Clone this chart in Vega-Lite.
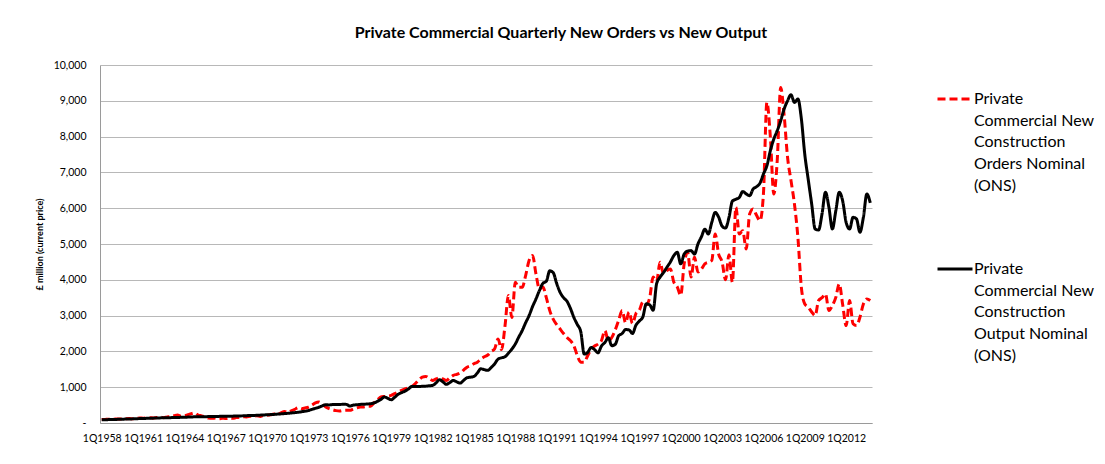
{
"$schema": "https://vega.github.io/schema/vega-lite/v6.json",
"width": 772, "height": 358,
"autosize": {"type": "none"},
"padding": {"left": 100, "top": 65, "right": 233, "bottom": 41},
"background": "white",
"title": {"text": "Private Commercial Quarterly New Orders vs New Output", "font": "Lato", "fontSize": 16, "fontWeight": "bold", "color": "#000000", "anchor": "middle", "offset": 19, "dx": 75},
"data": {"values": [
{"q":"1Q1958","orders":95,"output":90},{"q":"2Q1958","orders":100,"output":92},{"q":"3Q1958","orders":105,"output":95},{"q":"4Q1958","orders":100,"output":98},
{"q":"1Q1959","orders":110,"output":100},{"q":"2Q1959","orders":115,"output":103},{"q":"3Q1959","orders":108,"output":106},{"q":"4Q1959","orders":120,"output":110},
{"q":"1Q1960","orders":125,"output":113},{"q":"2Q1960","orders":118,"output":116},{"q":"3Q1960","orders":130,"output":120},{"q":"4Q1960","orders":140,"output":123},
{"q":"1Q1961","orders":135,"output":126},{"q":"2Q1961","orders":145,"output":130},{"q":"3Q1961","orders":150,"output":133},{"q":"4Q1961","orders":140,"output":136},
{"q":"1Q1962","orders":155,"output":140},{"q":"2Q1962","orders":165,"output":143},{"q":"3Q1962","orders":150,"output":146},{"q":"4Q1962","orders":170,"output":148},
{"q":"1Q1963","orders":180,"output":150},{"q":"2Q1963","orders":200,"output":152},{"q":"3Q1963","orders":220,"output":155},{"q":"4Q1963","orders":190,"output":158},
{"q":"1Q1964","orders":200,"output":160},{"q":"2Q1964","orders":230,"output":165},{"q":"3Q1964","orders":260,"output":170},{"q":"4Q1964","orders":280,"output":172},
{"q":"1Q1965","orders":220,"output":175},{"q":"2Q1965","orders":200,"output":178},{"q":"3Q1965","orders":170,"output":176},{"q":"4Q1965","orders":140,"output":180},
{"q":"1Q1966","orders":130,"output":182},{"q":"2Q1966","orders":140,"output":180},{"q":"3Q1966","orders":120,"output":185},{"q":"4Q1966","orders":135,"output":188},
{"q":"1Q1967","orders":125,"output":190},{"q":"2Q1967","orders":140,"output":188},{"q":"3Q1967","orders":130,"output":192},{"q":"4Q1967","orders":150,"output":195},
{"q":"1Q1968","orders":160,"output":198},{"q":"2Q1968","orders":175,"output":200},{"q":"3Q1968","orders":170,"output":205},{"q":"4Q1968","orders":185,"output":208},
{"q":"1Q1969","orders":190,"output":210},{"q":"2Q1969","orders":200,"output":215},{"q":"3Q1969","orders":185,"output":220},{"q":"4Q1969","orders":210,"output":225},
{"q":"1Q1970","orders":215,"output":230},{"q":"2Q1970","orders":230,"output":235},{"q":"3Q1970","orders":250,"output":240},{"q":"4Q1970","orders":240,"output":248},
{"q":"1Q1971","orders":280,"output":255},{"q":"2Q1971","orders":320,"output":262},{"q":"3Q1971","orders":300,"output":270},{"q":"4Q1971","orders":340,"output":280},
{"q":"1Q1972","orders":380,"output":290},{"q":"2Q1972","orders":430,"output":300},{"q":"3Q1972","orders":400,"output":315},{"q":"4Q1972","orders":420,"output":330},
{"q":"1Q1973","orders":445,"output":350},{"q":"2Q1973","orders":500,"output":380},{"q":"3Q1973","orders":560,"output":410},{"q":"4Q1973","orders":585,"output":440},
{"q":"1Q1974","orders":520,"output":480},{"q":"2Q1974","orders":450,"output":510},{"q":"3Q1974","orders":400,"output":505},{"q":"4Q1974","orders":370,"output":515},
{"q":"1Q1975","orders":345,"output":520},{"q":"2Q1975","orders":335,"output":515},{"q":"3Q1975","orders":350,"output":525},{"q":"4Q1975","orders":355,"output":520},
{"q":"1Q1976","orders":355,"output":475},{"q":"2Q1976","orders":390,"output":500},{"q":"3Q1976","orders":420,"output":510},{"q":"4Q1976","orders":445,"output":520},
{"q":"1Q1977","orders":450,"output":525},{"q":"2Q1977","orders":465,"output":530},{"q":"3Q1977","orders":470,"output":540},{"q":"4Q1977","orders":560,"output":560},
{"q":"1Q1978","orders":640,"output":605},{"q":"2Q1978","orders":725,"output":660},{"q":"3Q1978","orders":740,"output":725},{"q":"4Q1978","orders":750,"output":690},
{"q":"1Q1979","orders":770,"output":650},{"q":"2Q1979","orders":820,"output":720},{"q":"3Q1979","orders":860,"output":800},{"q":"4Q1979","orders":910,"output":850},
{"q":"1Q1980","orders":950,"output":890},{"q":"2Q1980","orders":980,"output":950},{"q":"3Q1980","orders":1020,"output":1020},{"q":"4Q1980","orders":1100,"output":1020},
{"q":"1Q1981","orders":1200,"output":1020},{"q":"2Q1981","orders":1280,"output":1025},{"q":"3Q1981","orders":1300,"output":1030},{"q":"4Q1981","orders":1250,"output":1040},
{"q":"1Q1982","orders":1190,"output":1050},{"q":"2Q1982","orders":1230,"output":1120},{"q":"3Q1982","orders":1265,"output":1210},{"q":"4Q1982","orders":1230,"output":1150},
{"q":"1Q1983","orders":1190,"output":1080},{"q":"2Q1983","orders":1260,"output":1130},{"q":"3Q1983","orders":1330,"output":1190},{"q":"4Q1983","orders":1360,"output":1150},
{"q":"1Q1984","orders":1395,"output":1115},{"q":"2Q1984","orders":1480,"output":1190},{"q":"3Q1984","orders":1560,"output":1265},{"q":"4Q1984","orders":1600,"output":1280},
{"q":"1Q1985","orders":1655,"output":1300},{"q":"2Q1985","orders":1700,"output":1400},{"q":"3Q1985","orders":1785,"output":1515},{"q":"4Q1985","orders":1850,"output":1490},
{"q":"1Q1986","orders":1900,"output":1470},{"q":"2Q1986","orders":2000,"output":1550},{"q":"3Q1986","orders":2070,"output":1650},{"q":"4Q1986","orders":2345,"output":1785},
{"q":"1Q1987","orders":2050,"output":1820},{"q":"2Q1987","orders":2700,"output":1850},{"q":"3Q1987","orders":3560,"output":1950},{"q":"4Q1987","orders":2950,"output":2065},
{"q":"1Q1988","orders":3930,"output":2205},{"q":"2Q1988","orders":3790,"output":2400},{"q":"3Q1988","orders":3790,"output":2580},{"q":"4Q1988","orders":4120,"output":2800},
{"q":"1Q1989","orders":4540,"output":3000},{"q":"2Q1989","orders":4680,"output":3250},{"q":"3Q1989","orders":4165,"output":3465},{"q":"4Q1989","orders":3745,"output":3700},
{"q":"1Q1990","orders":3800,"output":3900},{"q":"2Q1990","orders":3500,"output":3960},{"q":"3Q1990","orders":3140,"output":4250},{"q":"4Q1990","orders":2900,"output":4200},
{"q":"1Q1991","orders":2750,"output":3900},{"q":"2Q1991","orders":2625,"output":3650},{"q":"3Q1991","orders":2500,"output":3500},{"q":"4Q1991","orders":2390,"output":3400},
{"q":"1Q1992","orders":2300,"output":3200},{"q":"2Q1992","orders":2160,"output":2950},{"q":"3Q1992","orders":1880,"output":2750},{"q":"4Q1992","orders":1700,"output":2550},
{"q":"1Q1993","orders":1700,"output":1925},{"q":"2Q1993","orders":1880,"output":1970},{"q":"3Q1993","orders":2065,"output":2110},{"q":"4Q1993","orders":2150,"output":2050},
{"q":"1Q1994","orders":2205,"output":1960},{"q":"2Q1994","orders":2300,"output":2150},{"q":"3Q1994","orders":2580,"output":2250},{"q":"4Q1994","orders":2300,"output":2380},
{"q":"1Q1995","orders":2390,"output":2160},{"q":"2Q1995","orders":2600,"output":2200},{"q":"3Q1995","orders":2870,"output":2440},{"q":"4Q1995","orders":3140,"output":2500},
{"q":"1Q1996","orders":2800,"output":2610},{"q":"2Q1996","orders":3100,"output":2600},{"q":"3Q1996","orders":2780,"output":2500},{"q":"4Q1996","orders":3055,"output":2730},
{"q":"1Q1997","orders":3150,"output":2850},{"q":"2Q1997","orders":3380,"output":2960},{"q":"3Q1997","orders":3300,"output":3330},{"q":"4Q1997","orders":3500,"output":3300},
{"q":"1Q1998","orders":4075,"output":3150},{"q":"2Q1998","orders":3950,"output":3890},{"q":"3Q1998","orders":4490,"output":4075},{"q":"4Q1998","orders":4165,"output":4200},
{"q":"1Q1999","orders":4260,"output":4350},{"q":"2Q1999","orders":4305,"output":4500},{"q":"3Q1999","orders":3935,"output":4675},{"q":"4Q1999","orders":3800,"output":4770},
{"q":"1Q2000","orders":3565,"output":4445},{"q":"2Q2000","orders":4445,"output":4720},{"q":"3Q2000","orders":4770,"output":4800},{"q":"4Q2000","orders":4075,"output":4815},
{"q":"1Q2001","orders":4630,"output":4720},{"q":"2Q2001","orders":4215,"output":5000},{"q":"3Q2001","orders":4300,"output":5200},{"q":"4Q2001","orders":4445,"output":5415},
{"q":"1Q2002","orders":4490,"output":5280},{"q":"2Q2002","orders":4540,"output":5600},{"q":"3Q2002","orders":5280,"output":5880},{"q":"4Q2002","orders":4720,"output":5750},
{"q":"1Q2003","orders":4500,"output":5500},{"q":"2Q2003","orders":4000,"output":5445},{"q":"3Q2003","orders":4700,"output":5740},{"q":"4Q2003","orders":3930,"output":6200},
{"q":"1Q2004","orders":6025,"output":6250},{"q":"2Q2004","orders":5280,"output":6300},{"q":"3Q2004","orders":5370,"output":6465},{"q":"4Q2004","orders":4860,"output":6400},
{"q":"1Q2005","orders":5840,"output":6350},{"q":"2Q2005","orders":5980,"output":6535},{"q":"3Q2005","orders":5800,"output":6600},{"q":"4Q2005","orders":5650,"output":6700},
{"q":"1Q2006","orders":6400,"output":6955},{"q":"2Q2006","orders":8955,"output":7185},{"q":"3Q2006","orders":8000,"output":7605},{"q":"4Q2006","orders":6395,"output":7930},
{"q":"1Q2007","orders":7325,"output":8165},{"q":"2Q2007","orders":9370,"output":8440},{"q":"3Q2007","orders":8600,"output":8770},{"q":"4Q2007","orders":7420,"output":9000},
{"q":"1Q2008","orders":6770,"output":9170},{"q":"2Q2008","orders":6115,"output":8955},{"q":"3Q2008","orders":5185,"output":9050},{"q":"4Q2008","orders":3790,"output":8500},
{"q":"1Q2009","orders":3325,"output":7500},{"q":"2Q2009","orders":3235,"output":6800},{"q":"3Q2009","orders":3100,"output":6115},{"q":"4Q2009","orders":3000,"output":5420},
{"q":"1Q2010","orders":3420,"output":5390},{"q":"2Q2010","orders":3500,"output":5840},{"q":"3Q2010","orders":3605,"output":6445},{"q":"4Q2010","orders":3140,"output":6025},
{"q":"1Q2011","orders":3280,"output":5420},{"q":"2Q2011","orders":3510,"output":5930},{"q":"3Q2011","orders":3885,"output":6445},{"q":"4Q2011","orders":3300,"output":6200},
{"q":"1Q2012","orders":2720,"output":5600},{"q":"2Q2012","orders":3420,"output":5420},{"q":"3Q2012","orders":2770,"output":5745},{"q":"4Q2012","orders":2720,"output":5700},
{"q":"1Q2013","orders":2955,"output":5330},{"q":"2Q2013","orders":3325,"output":5745},{"q":"3Q2013","orders":3465,"output":6395},{"q":"4Q2013","orders":3420,"output":6150}
]},
"transform": [{"fold": ["orders", "output"], "as": ["series", "value"]}],
"mark": {"type": "line", "strokeWidth": 3, "interpolate": "monotone"},
"encoding": {
  "x": {"field": "q", "type": "ordinal", "sort": null, "scale": {"type": "point", "padding": 0.5},
    "axis": {"values": ["1Q1958","1Q1961","1Q1964","1Q1967","1Q1970","1Q1973","1Q1976","1Q1979","1Q1982","1Q1985","1Q1988","1Q1991","1Q1994","1Q1997","1Q2000","1Q2003","1Q2006","1Q2009","1Q2012"],
      "labelAngle": 0, "ticks": false, "grid": false, "title": null, "domainColor": "#9a9a9a", "labelFont": "Lato", "labelFontSize": 10.5, "labelColor": "#000000", "labelPadding": 10, "labelOverlap": false}},
  "y": {"field": "value", "type": "quantitative", "scale": {"domain": [0, 10000], "nice": false},
    "axis": {"values": [0,1000,2000,3000,4000,5000,6000,7000,8000,9000,10000], "labelExpr": "datum.value == 0 ? '- ' : format(datum.value, ',')",
      "title": "£ million (current price)", "titleFont": "Lato", "titleFontSize": 9, "titleFontWeight": "bold", "titleColor": "#000000", "titlePadding": 9,
      "ticks": false, "labelPadding": 14, "labelFont": "Lato", "labelFontSize": 10.5, "labelColor": "#000000", "domainColor": "#9a9a9a", "gridColor": "#b8b8b8"}},
  "color": {"field": "series", "type": "nominal", "scale": {"domain": ["orders", "output"], "range": ["#ff0000", "#000000"]},
    "legend": {"title": null, "orient": "none", "legendX": 836, "legendY": 15, "labelExpr": "datum.value == 'orders' ? ['Private','Commercial New','Construction','Orders Nominal','(ONS)'] : ['Private','Commercial New','Construction','Output Nominal','(ONS)']"}},
  "strokeDash": {"field": "series", "type": "nominal", "scale": {"domain": ["orders", "output"], "range": [[8, 4], [1, 0]]},
    "legend": {"title": null, "orient": "none", "legendX": 836, "legendY": 15, "labelExpr": "datum.value == 'orders' ? ['Private','Commercial New','Construction','Orders Nominal','(ONS)'] : ['Private','Commercial New','Construction','Output Nominal','(ONS)']"}}
},
"config": {
  "view": {"stroke": null},
  "style": {"guide-label": {"lineHeight": 21.7}},
  "legend": {"symbolType": "stroke", "symbolSize": 1225, "symbolStrokeWidth": 3, "labelFont": "Lato", "labelFontSize": 16, "labelColor": "#000000", "labelOffset": 0, "labelLimit": 300, "labelBaseline": "middle", "rowPadding": 56}
}
}
